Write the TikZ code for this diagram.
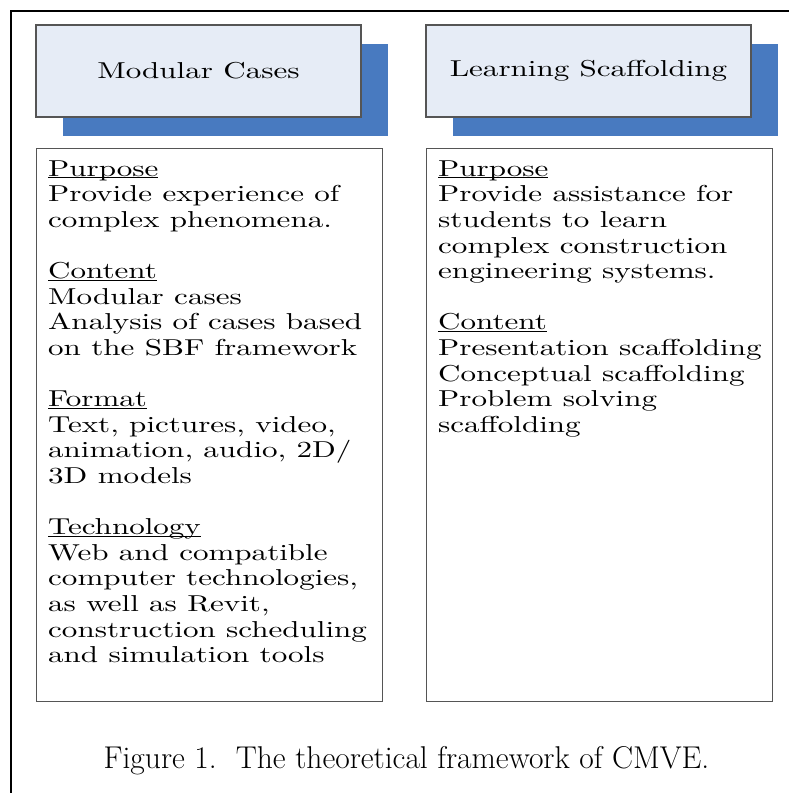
\documentclass[tikz,border=0pt]{standalone}
\usepackage{fontspec}
\usetikzlibrary{positioning,shadows}

\newfontfamily\widelm{lmroman10-regular.otf}[FakeStretch=1.35]

\definecolor{headfill}{RGB}{230,236,246}
\definecolor{shadeblue}{RGB}{72,122,192}
\definecolor{boxline}{RGB}{85,85,85}

\newcommand{\boxfont}{\widelm\fontsize{23}{25.6}\selectfont}
\newcommand{\sectword}[1]{\underline{\smash{#1}}}

\begin{document}
\begin{tikzpicture}[x=1pt,y=-1pt,
		head/.style={draw=boxline, line width=1.2pt, fill=headfill, minimum width=325pt, minimum height=92pt, font=\boxfont,
			copy shadow={shadow xshift=26.5pt, shadow yshift=-19pt, fill=shadeblue, draw=none}},
		body/.style={draw=boxline, line width=1pt, minimum width=346pt, minimum height=553pt, anchor=north west},
		bodytext/.style={anchor=north west, inner sep=0pt, align=left, font=\boxfont}]
		\useasboundingbox (0,0) rectangle (789,793);
		\draw[line width=2pt] (11,793) -- (11,11) -- (789,11);

		% headings with blue shadow
		\node[head] (modhead) at (198.5,71) {Modular Cases};
		\node[head] (scafhead) at (588.5,71) {Learning Scaffolding};

		% content boxes
		\node[body] (modbody) at (36,148) {};
		\node[body] (scafbody) at (426,148) {};

		\node[bodytext, below right=28pt and 12pt of modbody.north west] (modtext) {%
			\sectword{Purpose}\\
			Provide experience of\\
			complex phenomena.\\[25.6pt]
			\sectword{Content}\\
			Modular cases\\
			Analysis of cases based\\
			on the SBF framework\\[25.6pt]
			\sectword{Format}\\
			Text, pictures, video,\\
			animation, audio, 2D/\\
			3D models\\[25.6pt]
			\sectword{Technology}\\
			Web and compatible\\
			computer technologies,\\
			as well as Revit,\\
			construction scheduling\\
			and simulation tools};

		\node[bodytext, below right=28pt and 12pt of scafbody.north west] (scaftext) {%
			\sectword{Purpose}\\
			Provide assistance for\\
			students to learn\\
			complex construction\\
			engineering systems.\\[25.6pt]
			\sectword{Content}\\
			Presentation scaffolding\\
			Conceptual scaffolding\\
			Problem solving\\
			scaffolding};

		\node[anchor=base, inner sep=0pt, font=\fontsize{31.5}{36}\selectfont] (caption) at (406.5,768) {Figure 1.\ \ The theoretical framework of CMVE.};
\end{tikzpicture}
\end{document}
